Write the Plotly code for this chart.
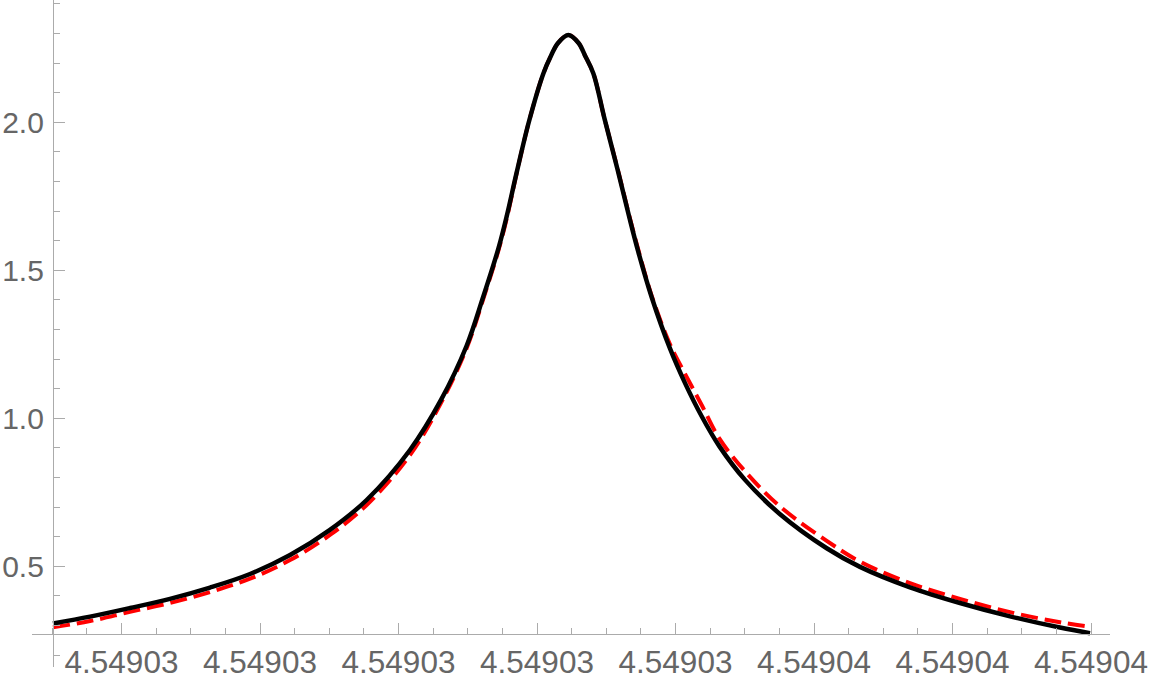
import plotly.graph_objects as go

# x positions as offsets from X0, in units of 1e-6
X0 = 4.54903
DX = [-0.495, -0.227, 0.061, 0.350, 0.639, 0.928, 1.217, 1.505, 1.770, 2.083,
      2.307, 2.492, 2.610, 2.722, 2.783, 2.853, 2.944, 3.046, 3.101, 3.152,
      3.226, 3.300, 3.347, 3.407, 3.486, 3.583, 3.666, 3.731, 3.828, 3.960,
      4.069, 4.189, 4.316, 4.502, 4.755, 5.092, 5.332, 5.693, 6.054, 6.415,
      6.776, 6.993]

# solid black curve
Y_BLACK = [0.307, 0.330, 0.359, 0.390, 0.428, 0.474, 0.538, 0.623, 0.724, 0.893,
           1.062, 1.245, 1.408, 1.575, 1.686, 1.830, 2.006, 2.165, 2.225, 2.268,
           2.295, 2.268, 2.225, 2.165, 2.015, 1.838, 1.680, 1.563, 1.409, 1.236,
           1.119, 1.007, 0.906, 0.792, 0.676, 0.561, 0.498, 0.429, 0.376, 0.331,
           0.293, 0.274]

# dashed red curve
Y_RED = [0.294, 0.315, 0.346, 0.376, 0.413, 0.458, 0.521, 0.606, 0.707, 0.876,
         1.052, 1.237, 1.400, 1.568, 1.678, 1.828, 2.006, 2.165, 2.225, 2.268,
         2.295, 2.268, 2.225, 2.165, 2.015, 1.841, 1.685, 1.570, 1.414, 1.250,
         1.150, 1.045, 0.932, 0.821, 0.702, 0.586, 0.516, 0.443, 0.390, 0.345,
         0.311, 0.296]

X_MAJOR = [0, 1, 2, 3, 4, 5, 6, 7]
X_LABELS = ['4.54903'] * 5 + ['4.54904'] * 3
Y_MAJOR = [0.5, 1.0, 1.5, 2.0]
Y_LABELS = ['0.5', '1.0', '1.5', '2.0']

x = [X0 + d * 1e-6 for d in DX]
x_major = [X0 + d * 1e-6 for d in X_MAJOR]
x_minor = [X0 + (k * 0.25) * 1e-6 for k in range(-2, 29) if k % 4 != 0]
y_minor = [round(0.1 * k, 1) for k in range(2, 25) if k % 5 != 0]

AXIS = '#ababab'
LABEL = '#666666'

fig = go.Figure()

fig.add_trace(go.Scatter(
    x=x, y=Y_RED, mode='lines',
    line=dict(color='#ff0000', width=4, dash='17px,7px', shape='spline', smoothing=1.0),
    showlegend=False, hoverinfo='skip'
))
fig.add_trace(go.Scatter(
    x=x, y=Y_BLACK, mode='lines',
    line=dict(color='#000000', width=4.5, shape='spline', smoothing=1.0),
    showlegend=False, hoverinfo='skip'
))

x_range = [X0 - 0.6462e-6, X0 + 7.1372e-6]
y_range = [0.1598, 2.4132]

fig.update_layout(
    width=1150, height=689,
    paper_bgcolor='white', plot_bgcolor='white',
    margin=dict(l=32, r=40, t=0, b=22, autoexpand=False),
    font=dict(family='Liberation Sans, Arial, sans-serif', size=31.5, color=LABEL),
)

fig.update_xaxes(
    range=x_range, anchor='free', position=(667 - 634) / 667,
    showgrid=False, zeroline=False,
    showline=True, linecolor=AXIS, linewidth=1.3,
    tickmode='array', tickvals=x_major, ticktext=X_LABELS,
    ticks='inside', ticklen=11, tickwidth=1, tickcolor=AXIS,
    minor=dict(tickmode='array', tickvals=x_minor, ticks='inside', ticklen=6, tickwidth=1, tickcolor=AXIS),
    tickfont=dict(size=31.5, color=LABEL), automargin=False,
)
fig.update_yaxes(
    range=y_range, anchor='free', position=(53 - 32) / 1078,
    showgrid=False, zeroline=False,
    showline=True, linecolor=AXIS, linewidth=1.3,
    tickmode='array', tickvals=Y_MAJOR, ticktext=Y_LABELS,
    ticks='inside', ticklen=11, tickwidth=1, tickcolor=AXIS,
    minor=dict(tickmode='array', tickvals=y_minor, ticks='inside', ticklen=6, tickwidth=1, tickcolor=AXIS),
    tickfont=dict(size=30, color=LABEL), ticklabelstandoff=3, automargin=False,
)

# drop the page's default body margin so the figure sits at the window's top-left corner
fig.write_html("out.html", config={'displayModeBar': False},
               post_script="document.body.style.margin='0';")
